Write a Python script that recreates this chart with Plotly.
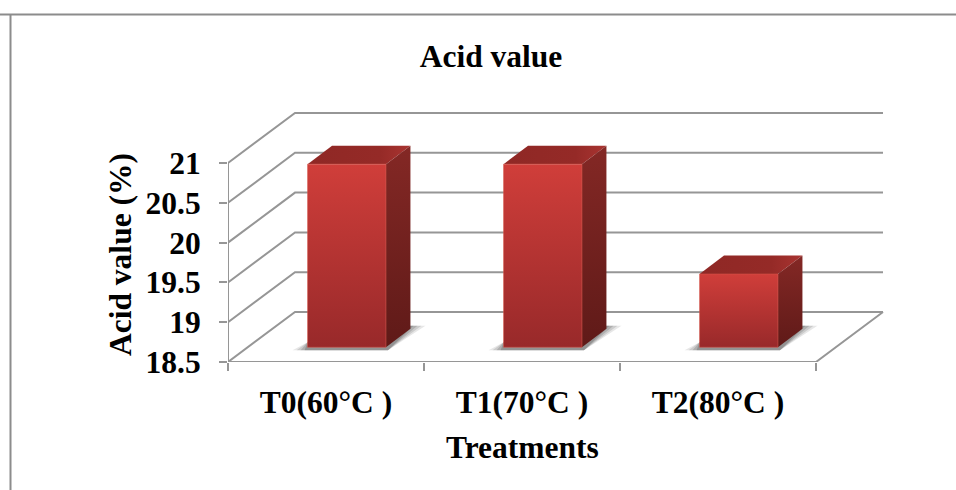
import plotly.graph_objects as go

categories = ["T0(60°C )", "T1(70°C )", "T2(80°C )"]
acid_values = [20.8, 20.8, 19.42]
y_ticks = [18.5, 19, 19.5, 20, 20.5, 21]
y_tick_labels = ["18.5", "19", "19.5", "20", "20.5", "21"]

W, H = 956, 490
L, R, T, B = 228, 884, 112, 362   # plot box including the depth of the walls
FONT = "Liberation Serif"
GRID = "#969696"
TEXT = "#000000"
FS = 31.5

PX_X = 1 / 196      # axis units per pixel
PX_Y = 1 / 79.6
DEPTH_X = 67 * PX_X
DEPTH_Y = 50 * PX_Y
FRONT_X, FRONT_Y = 0.31, 0.295
BACK_X, BACK_Y = 0.675, 0.665
HALF = 0.2
BASE = y_ticks[0]

fig = go.Figure()


def line(xs, ys):
    fig.add_trace(go.Scatter(x=xs, y=ys, mode="lines", cliponaxis=False, hoverinfo="skip",
                             showlegend=False, line=dict(color=GRID, width=2)))


def poly(xs, ys, fillcolor=None, gradient=None, outline=None):
    kw = dict(fillgradient=gradient) if gradient else dict(fillcolor=fillcolor)
    fig.add_trace(go.Scatter(x=xs + xs[:1], y=ys + ys[:1], mode="lines", fill="toself",
                             cliponaxis=False, hoverinfo="skip", showlegend=False,
                             line=dict(color=outline or "rgba(0,0,0,0)", width=1), **kw))


xmin, xmax = -0.5, 2.5
# walls, floor and front axis lines
for v in y_ticks:
    line([xmin, xmin + DEPTH_X, xmax + DEPTH_X], [v, v + DEPTH_Y, v + DEPTH_Y])
line([xmax + DEPTH_X, xmax, xmin], [BASE + DEPTH_Y, BASE, BASE])
line([xmin, xmin], [y_ticks[0], y_ticks[-1]])

for i, v in enumerate(acid_values):
    xl, xr = i - HALF, i + HALF
    fx, fy = FRONT_X * DEPTH_X, FRONT_Y * DEPTH_Y
    bx, by = BACK_X * DEPTH_X, BACK_Y * DEPTH_Y
    f, b = BASE + fy, BASE + by
    # soft floor shadow
    for g, a in [(15, 0.12), (11, 0.16), (7, 0.2), (3, 0.24)]:
        poly([xl + fx - g * PX_X, xr + fx + 2 * PX_X, xr + bx + g * PX_X, xr + bx, xl + fx],
             [f - 3 * PX_Y, f - 3 * PX_Y, b + 3 * PX_Y, b + 3 * PX_Y, f + 5 * PX_Y],
             fillcolor=f"rgba(60,60,60,{a})")
    # top face
    poly([xl + fx, xr + fx, xr + bx, xl + bx], [v + fy, v + fy, v + by, v + by],
         gradient=dict(type="horizontal", colorscale=[[0, "#8f2825"], [0.7, "#952a27"], [1, "#a93431"]]))
    # side face
    poly([xr + fx, xr + bx, xr + bx, xr + fx], [f, b, v + by, v + fy],
         gradient=dict(type="vertical", colorscale=[[0, "#5f1a18"], [1, "#842825"]]))
    # front face
    poly([xl + fx, xr + fx, xr + fx, xl + fx], [f, f, v + fy, v + fy],
         gradient=dict(type="vertical", colorscale=[[0, "#98292a"], [1, "#d03e3a"]]),
         outline="rgba(215,85,75,0.55)")

minor_x = [xmin + k for k in range(len(categories) + 1)]


def px_x(p):
    return (p - L) / (R - L)


def px_y(p):
    return (B - p) / (B - T)


fig.update_layout(
    width=W, height=H, autosize=False,
    margin=dict(l=L, r=W - R, t=T, b=H - B, pad=0, autoexpand=False),
    paper_bgcolor="white", plot_bgcolor="rgba(0,0,0,0)", showlegend=False,
    font=dict(family=FONT, color=TEXT, size=FS),
    title=dict(text="<b>Acid value</b>", x=491 / W, xanchor="center", xref="container",
               y=1 - 56 / H, yanchor="middle", yref="container", font=dict(size=FS, family=FONT)),
    xaxis=dict(range=[xmin, xmin + (R - L) * PX_X], tickmode="array",
               tickvals=list(range(len(categories))),
               ticktext=[f"<b>{c}</b>" for c in categories], ticks="", showgrid=False, zeroline=False,
               showline=False, ticklabelstandoff=18,
               tickfont=dict(size=FS, family=FONT, color=TEXT),
               minor=dict(tickmode="array", tickvals=minor_x, ticks="outside", ticklen=8,
                          tickcolor=GRID, tickwidth=2, showgrid=False)),
    yaxis=dict(range=[BASE, BASE + (B - T) * PX_Y], tickmode="array", tickvals=y_ticks,
               ticktext=[f"<b>{s}</b>" for s in y_tick_labels], ticks="outside", ticklen=8,
               tickcolor=GRID, tickwidth=2, showgrid=False, zeroline=False, showline=False,
               ticklabelstandoff=12, tickfont=dict(size=FS, family=FONT, color=TEXT)),
    annotations=[
        dict(text="<b>Acid value (%)</b>", textangle=-90, xref="paper", yref="paper",
             x=px_x(120), y=px_y(255), showarrow=False, xanchor="center", yanchor="middle",
             font=dict(size=FS, family=FONT, color=TEXT)),
        dict(text="<b>Treatments</b>", xref="paper", yref="paper",
             x=px_x(522), y=px_y(447), showarrow=False, xanchor="center", yanchor="middle",
             font=dict(size=FS, family=FONT, color=TEXT)),
    ],
    shapes=[
        dict(type="line", xref="paper", yref="paper", x0=px_x(0), x1=px_x(W),
             y0=px_y(14.5), y1=px_y(14.5), line=dict(color="#8c8c8c", width=2)),
        dict(type="line", xref="paper", yref="paper", x0=px_x(10.5), x1=px_x(10.5),
             y0=px_y(14.5), y1=px_y(H), line=dict(color="#8c8c8c", width=2)),
    ],
)

fig.write_html("out.html", config={"displayModeBar": False},
               post_script="document.body.style.margin='0';")
